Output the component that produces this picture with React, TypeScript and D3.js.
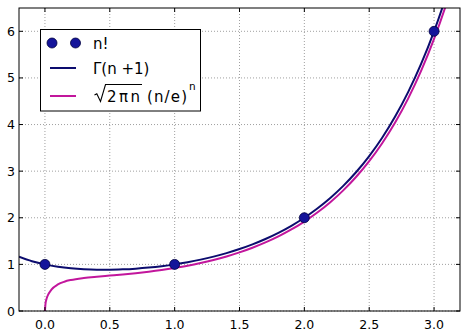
import React from "react";
import * as d3 from "d3";

// n! points
const factN = [0, 1, 2, 3];
const factV = [1, 1, 2, 6];

// Γ(n+1) curve sample
const gammaX = [-0.2, -0.1, 0, 0.1, 0.2, 0.3, 0.4, 0.5, 0.6, 0.7, 0.8, 0.9, 1.0, 1.1, 1.2, 1.3, 1.4, 1.5, 1.6, 1.7, 1.8, 1.9, 2.0, 2.1, 2.2, 2.3, 2.4, 2.5, 2.6, 2.7, 2.8, 2.9, 3.0, 3.1, 3.2];
const gammaY = [1.1642, 1.0686, 1.0, 0.9514, 0.9182, 0.8975, 0.8873, 0.8862, 0.8935, 0.9086, 0.9314, 0.9618, 1.0, 1.0465, 1.1018, 1.1667, 1.2422, 1.3293, 1.4296, 1.5447, 1.6765, 1.8274, 2.0, 2.1977, 2.424, 2.6834, 2.9813, 3.3234, 3.717, 4.1707, 4.6942, 5.2995, 6.0, 6.8129, 7.757];

// Stirling approximation sample
const stirX = [0, 0.005, 0.01, 0.02, 0.05, 0.1, 0.15, 0.2, 0.3, 0.4, 0.5, 0.6, 0.7, 0.8, 0.9, 1.0, 1.1, 1.2, 1.3, 1.4, 1.5, 1.6, 1.7, 1.8, 1.9, 2.0, 2.1, 2.2, 2.3, 2.4, 2.5, 2.6, 2.7, 2.8, 2.9, 3.0, 3.1, 3.2];
const stirY = [0, 0.176, 0.237, 0.3213, 0.459, 0.5698, 0.6287, 0.6652, 0.7087, 0.7367, 0.7602, 0.7844, 0.8114, 0.8428, 0.8794, 0.9221, 0.9702, 1.0279, 1.0943, 1.1705, 1.2575, 1.3571, 1.4708, 1.6007, 1.749, 1.919, 2.1122, 2.3339, 2.5879, 2.8796, 3.2145, 3.5998, 4.044, 4.5566, 5.1494, 5.8362, 6.6323, 7.56];

const xTicks = [0, 0.5, 1, 1.5, 2, 2.5, 3];
const yTicks = [0, 1, 2, 3, 4, 5, 6];

const W = 464, H = 333;
const L = 19, R = 460, T = 8, B = 311;

const GAMMA_C = "#0c0c6e";
const STIR_C = "#c2169c";
const PT_C = "#14149a";

export default function App() {
  const x = d3.scaleLinear().domain([-0.2, 3.2]).range([L, R]);
  const y = d3.scaleLinear().domain([0, 6.5]).range([B, T]);
  const line = d3.line<[number, number]>().x(d => x(d[0])).y(d => y(d[1])).curve(d3.curveMonotoneX);
  const gPts = gammaX.map((v, i) => [v, gammaY[i]] as [number, number]);
  const sPts = stirX.map((v, i) => [v, stirY[i]] as [number, number]);
  const font = "'DejaVu Sans', sans-serif";

  return (
    <svg width={W} height={H} style={{ position: "absolute", left: 0, top: 0, background: "#fff" }}>
      <defs>
        <clipPath id="plot">
          <rect x={L} y={T} width={R - L} height={B - T} />
        </clipPath>
      </defs>
      <rect x={0} y={0} width={W} height={H} fill="#fff" />
      {/* grid */}
      {xTicks.map(t => (
        <line key={"gx" + t} x1={x(t)} x2={x(t)} y1={T} y2={B} stroke="#888" strokeWidth={0.8} strokeDasharray="1,2" />
      ))}
      {yTicks.map(t => (
        <line key={"gy" + t} x1={L} x2={R} y1={y(t)} y2={y(t)} stroke="#888" strokeWidth={0.8} strokeDasharray="1,2" />
      ))}
      <g clipPath="url(#plot)">
        <path d={line(sPts) || ""} fill="none" stroke={STIR_C} strokeWidth={2} />
        <path d={line(gPts) || ""} fill="none" stroke={GAMMA_C} strokeWidth={2} />
      </g>
      {factN.map((n, i) => (
        <circle key={"p" + n} cx={x(n)} cy={y(factV[i])} r={5} fill={PT_C} stroke="#000040" strokeWidth={0.8} />
      ))}
      {/* ticks */}
      {xTicks.map(t => (
        <g key={"tx" + t}>
          <line x1={x(t)} x2={x(t)} y1={B} y2={B - 4} stroke="#000" />
          <line x1={x(t)} x2={x(t)} y1={T} y2={T + 4} stroke="#000" />
          <text x={x(t)} y={329} textAnchor="middle" fontFamily={font} fontSize={12.5}>{t.toFixed(1)}</text>
        </g>
      ))}
      {yTicks.map(t => (
        <g key={"ty" + t}>
          <line x1={L} x2={L + 4} y1={y(t)} y2={y(t)} stroke="#000" />
          <line x1={R} x2={R - 4} y1={y(t)} y2={y(t)} stroke="#000" />
          <text x={15} y={y(t) + 4.5} textAnchor="end" fontFamily={font} fontSize={12.5}>{t}</text>
        </g>
      ))}
      <rect x={L} y={T} width={R - L} height={B - T} fill="none" stroke="#000" strokeWidth={1} />
      {/* legend */}
      <g>
        <rect x={40.5} y={29.5} width={160} height={81.5} fill="#fff" stroke="#000" strokeWidth={1} />
        <circle cx={52} cy={43} r={5} fill={PT_C} stroke="#000040" strokeWidth={0.8} />
        <circle cx={75.5} cy={43} r={5} fill={PT_C} stroke="#000040" strokeWidth={0.8} />
        <text x={93} y={48.5} fontFamily={font} fontSize={15}>n!</text>
        <line x1={50} x2={76} y1={68} y2={68} stroke={GAMMA_C} strokeWidth={2} />
        <text x={93} y={73.5} fontFamily={font} fontSize={15}>Γ(n +1)</text>
        <line x1={50} x2={76} y1={96} y2={96} stroke={STIR_C} strokeWidth={2} />
        <path d="M94.5,95 L96.8,93.8 L100.5,101.5 L105.5,84.5 L142,84.5" fill="none" stroke="#000" strokeWidth={1.1} strokeLinejoin="miter" />
        <text x={107} y={101.5} fontFamily={font} fontSize={15} textLength={33} lengthAdjust="spacing">2πn</text>
        <text x={147} y={101.5} fontFamily={font} fontSize={15} textLength={40} lengthAdjust="spacing">(n/e)</text>
        <text x={189} y={90} fontFamily={font} fontSize={10.5}>n</text>
      </g>
    </svg>
  );
}
